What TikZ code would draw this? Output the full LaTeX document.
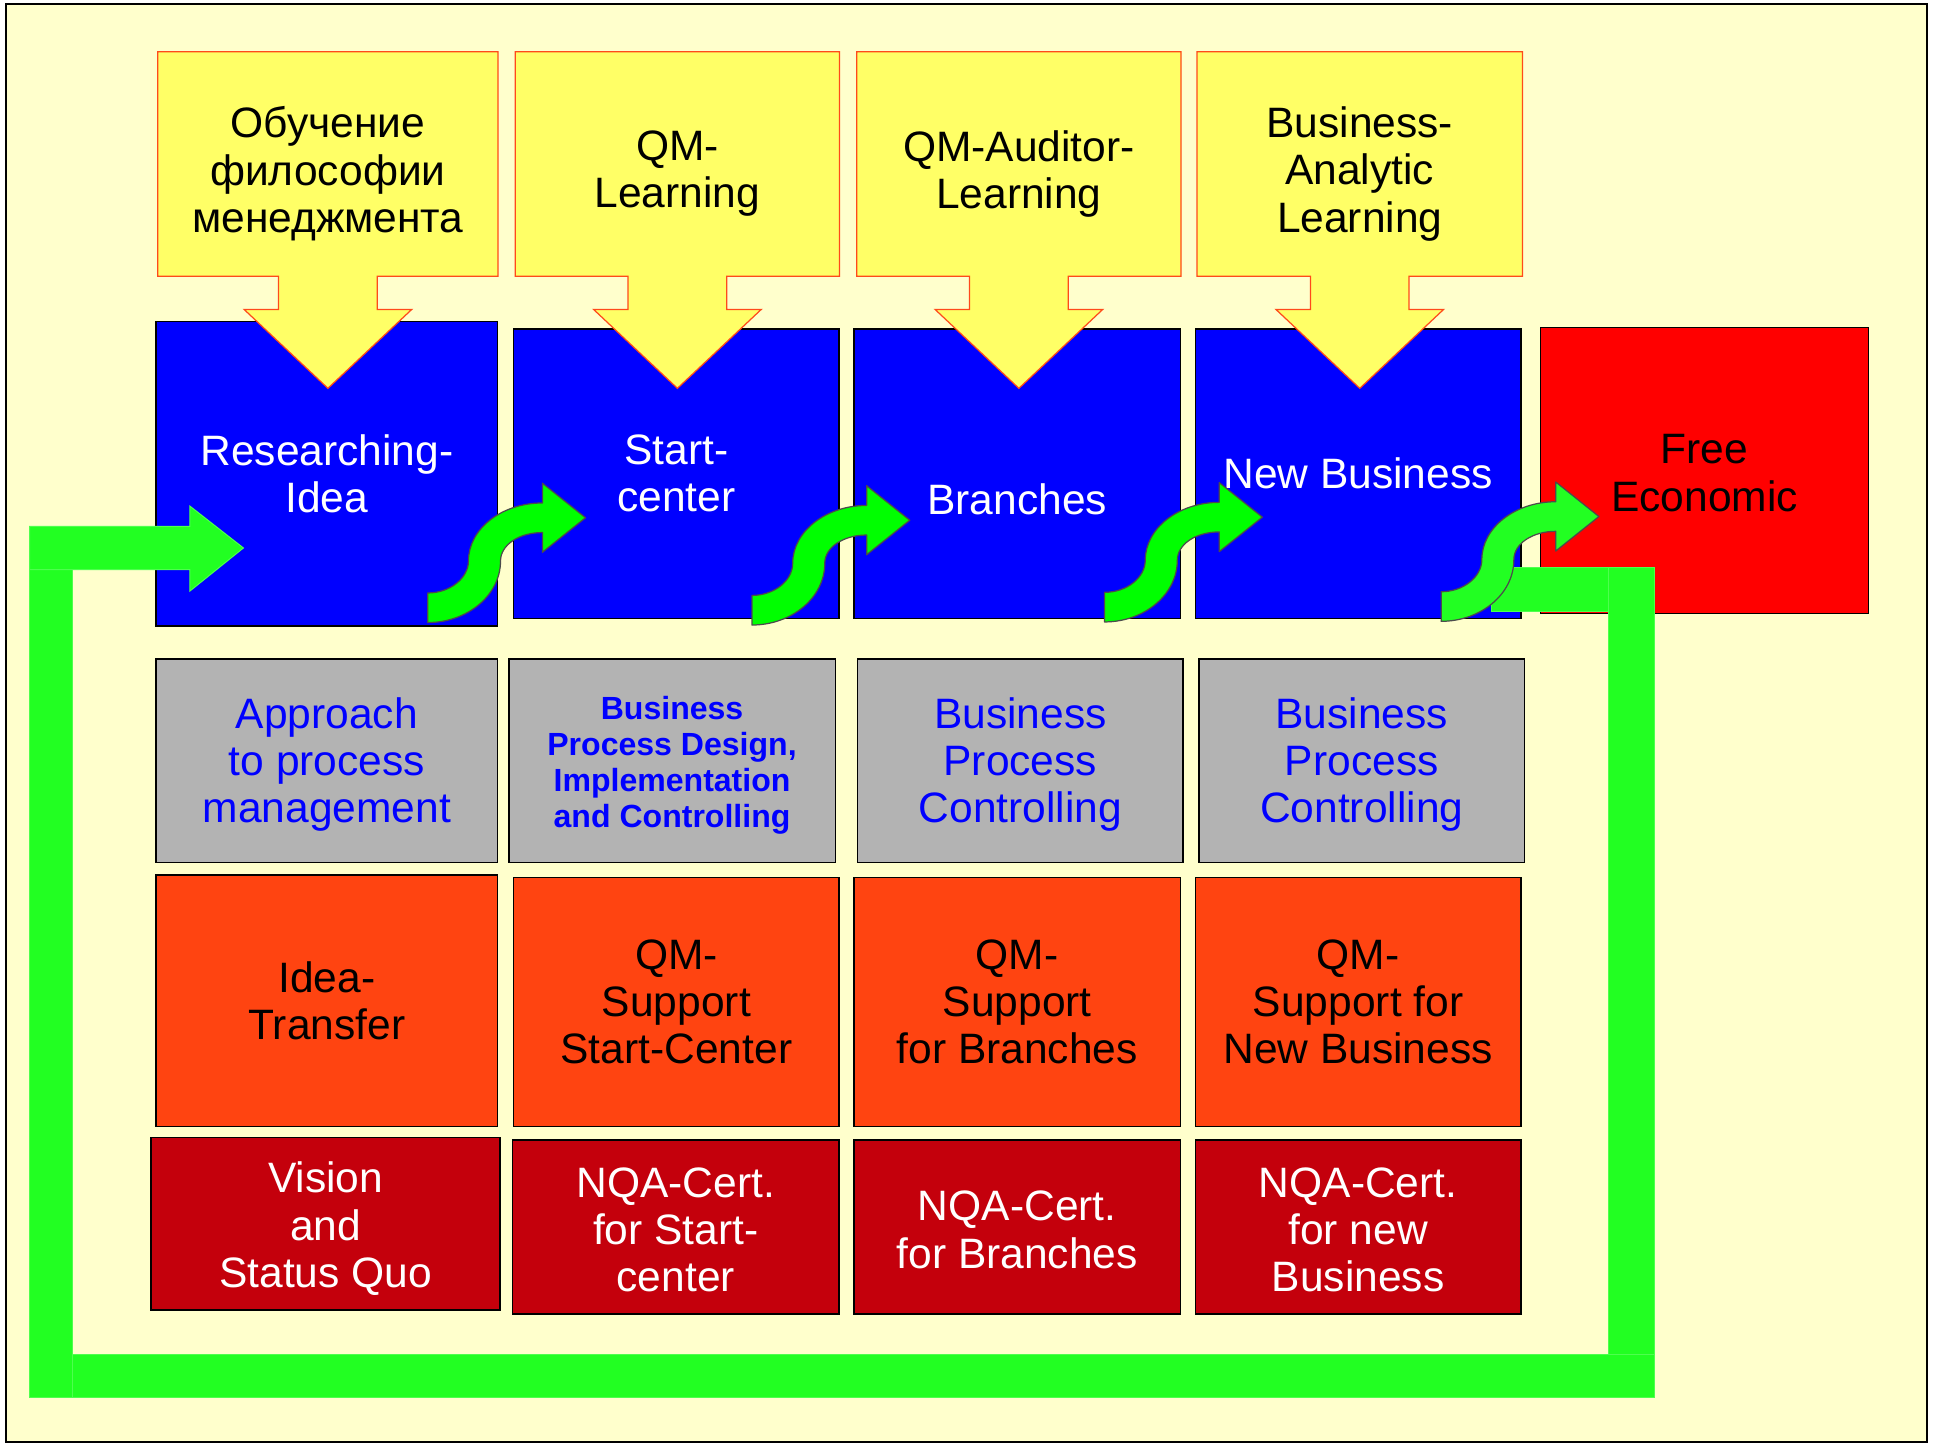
\documentclass[tikz,border=0pt]{standalone}
\usepackage{fontspec}
\setmainfont{Liberation Sans}
\definecolor{cream}{HTML}{FFFFCC}
\definecolor{learnfill}{HTML}{FFFF66}
\definecolor{learnline}{HTML}{FF4A1A}
\definecolor{stageblue}{HTML}{0000FF}
\definecolor{ecored}{HTML}{FF0000}
\definecolor{procgray}{HTML}{B3B3B3}
\definecolor{supportorange}{HTML}{FF4411}
\definecolor{certred}{HTML}{C4000C}
\definecolor{loopgreen}{HTML}{22FF22}
\definecolor{curvygreen}{HTML}{00FF00}
\newcommand\bigtext{\fontsize{34.5}{38.5}\selectfont}
\newcommand\smalltext{\fontsize{26}{29}\selectfont\bfseries}
\newcommand\lift[1]{\rule{0pt}{#1}}
\tikzset{
  cell/.style 2 args={anchor=north west, minimum width=#1, minimum height=#2,
    inner sep=0pt, align=center, draw=black, line width=1.3pt, font=\bigtext},
  stage/.style={fill=stageblue, text=white},
  process/.style={fill=procgray, text=stageblue},
  support/.style={fill=supportorange, text=black},
  cert/.style={fill=certred, text=white},
  learnshape/.style={fill=learnfill, draw=learnline, line width=1pt},
  learntext/.style={align=center, inner sep=0pt, font=\bigtext},
  loopband/.style={fill=loopgreen, draw=loopgreen!80!white, line width=0.8pt},
  curvy/.style={draw=black!70, line width=1pt, line join=round}
}
\begin{document}
\begin{tikzpicture}[x=1pt,y=-1pt]
\useasboundingbox (0,0) rectangle (1568,1174);
\fill[white] (0,0) rectangle (1568,1174);
\draw[fill=cream, line width=1.5pt] (5,3) rectangle (1563,1170);
% stages
\node[cell={277}{247}, stage] (research) at (126,260) {Researching-\\Idea};
\node[cell={264}{235}, stage] (start) at (416,266) {Start-\\center};
\node[cell={265}{235}, stage] (branch) at (692,266) {\lift{66pt}Branches};
\node[cell={264}{235}, stage] (newbiz) at (969,266) {New Business};
\node[cell={266}{232}, fill=ecored] (freeeco) at (1249,265) {\lift{28pt}Free\\Economic};
% process management
\node[cell={277}{165}, process] (approach) at (126,534) {\lift{31pt}Approach\\to process\\management};
\node[cell={265}{165}, process, font=\smalltext] (bpdesign) at (412,534)
  {\lift{26pt}Business\\Process Design,\\Implementation\\and Controlling};
\node[cell={264}{165}, process] (bpctrlA) at (695,534) {\lift{31pt}Business\\Process\\Controlling};
\node[cell={264}{165}, process] (bpctrlB) at (972,534) {\lift{31pt}Business\\Process\\Controlling};
% support
\node[cell={277}{204}, support] (ideatr) at (126,709) {Idea-\\Transfer};
\node[cell={264}{202}, support] (qmstart) at (416,711) {QM-\\Support\\Start-Center};
\node[cell={265}{202}, support] (qmbranch) at (692,711) {QM-\\Support\\for Branches};
\node[cell={264}{202}, support] (qmnewbiz) at (969,711) {QM-\\Support for\\New Business};
% certification
\node[cell={283}{140}, cert] (vision) at (122,922) {\lift{33pt}Vision\\and\\Status Quo};
\node[cell={265}{141}, cert] (nqastart) at (415,924) {\lift{29pt}NQA-Cert.\\for Start-\\center};
\node[cell={265}{141}, cert] (nqabranch) at (692,924) {\lift{29pt}NQA-Cert.\\for Branches};
\node[cell={264}{141}, cert] (nqanewbiz) at (969,924) {\lift{29pt}NQA-Cert.\\for new\\Business};
% learning arrows
\foreach \l/\r in {128/404, 418/681, 695/958, 971/1235}{
  \pgfmathsetmacro\c{(\l+\r)/2}
  \draw[learnshape] (\l,42) -- (\r,42) -- (\r,224) -- (\c+40,224) -- (\c+40,251)
    -- (\c+68,251) -- (\c,315) -- (\c-68,251) -- (\c-40,251) -- (\c-40,224) -- (\l,224) -- cycle;
}
\node[learntext] (philo) at (266,141) {Обучение\\философии\\менеджмента};
\node[learntext] (qmlearn) at (549.5,141) {QM-\\Learning};
\node[learntext] (auditor) at (826.5,141) {QM-Auditor-\\Learning};
\node[learntext] (analytic) at (1103,141) {Business-\\Analytic\\Learning};
% feedback loop
\draw[loopband] (24,462) rectangle (59,1134);
\draw[loopband] (59,1099) rectangle (1342,1134);
\draw[loopband] (1305,460) rectangle (1342,1099);
\draw[loopband] (1210,460) rectangle (1305,496);
\draw[loopband] (24,427) -- (154,427) -- (154,410.5) -- (197.5,444.5) -- (154,479.5)
  -- (154,462) -- (24,462) -- cycle;
% curved arrows between stages
\foreach \x/\y/\col in {347/493/curvygreen, 610/495/curvygreen, 896/492.5/curvygreen, 1169/492/loopgreen}{
  \draw[curvy, fill=\col, shift={(\x,\y)}] (0,12) .. controls (32,12) and (59,-10) .. (59,-38)
    .. controls (59,-51) and (74,-61) .. (93,-61) -- (93,-45) -- (128,-73) -- (93,-101) -- (93,-85)
    .. controls (60,-85) and (33,-64) .. (33,-38) .. controls (33,-24) and (18,-12) .. (0,-12) -- cycle;
}
\end{tikzpicture}
\end{document}
